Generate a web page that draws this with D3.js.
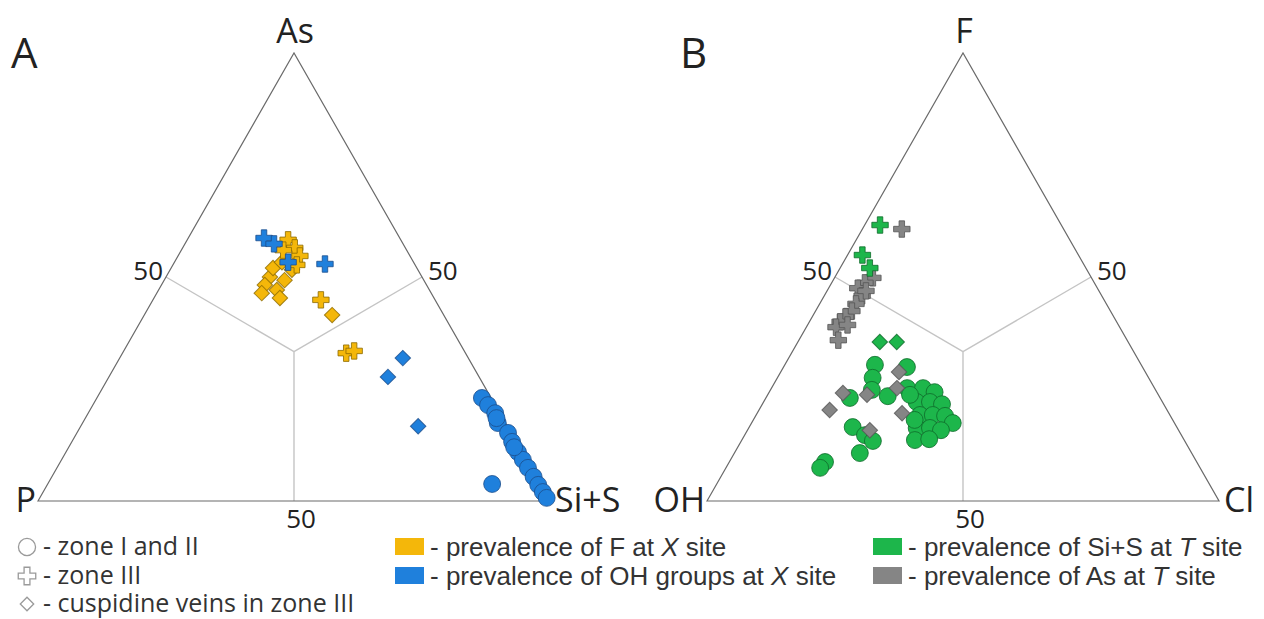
<!DOCTYPE html>
<html>
<head>
<meta charset="utf-8">
<script src="https://cdn.jsdelivr.net/npm/d3@7"></script>
<style>
  body { margin: 0; background: #fff; }
  svg text { fill: #222; }
</style>
</head>
<body>
<div id="chart"></div>
<script>
// compositions are [left vertex, apex, right vertex] in %
// diagram A: P - As - Si+S
const aCornerLabels = ['P', 'As', 'Si+S']
const aCircleBlue = [
  [1.8, 23.0, 75.2], [1.4, 21.4, 77.2], [0.9, 19.6, 79.5], [1.5, 17.4, 81.1],
  [1.2, 18.5, 80.3], [0.6, 15.2, 84.2], [0.8, 13.2, 86.0], [0.8, 10.9, 88.3],
  [0.7, 9.2, 90.1], [0.6, 7.4, 92.0], [0.5, 5.4, 94.1], [0.5, 3.6, 95.9],
  [0.4, 2.0, 97.6], [0.3, 0.7, 99.0], [9.4, 3.8, 86.8], [1.0, 12.0, 87.0]
]
const aCrossYellow = [
  [22.0, 58.3, 19.7], [21.6, 56.5, 21.9], [21.5, 54.7, 23.8], [23.1, 52.7, 24.2],
  [24.1, 56.0, 19.9], [22.3, 44.9, 32.8], [23.3, 33.0, 43.7], [21.5, 33.5, 45.0]
]
const aCrossBlue = [
  [26.5, 58.7, 14.8], [25.2, 57.4, 17.4], [24.5, 53.3, 22.2], [17.5, 52.9, 29.6]
]
const aDiamondYellow = [
  [29.7, 50.0, 20.3], [31.6, 48.2, 20.2], [29.8, 47.1, 23.1], [27.2, 49.3, 23.5],
  [30.1, 45.3, 24.6], [28.1, 52.0, 19.9], [24.6, 51.6, 23.8], [25.7, 53.3, 21.0],
  [33.1, 46.4, 20.5], [21.8, 41.5, 36.7]
]
const aDiamondBlue = [
  [12.8, 31.9, 55.3], [17.8, 27.7, 54.5], [17.4, 16.7, 65.9]
]

// diagram B: OH - F - Cl
const bCornerLabels = ['OH', 'F', 'Cl']
const bCircleGreen = [
  [52.0, 30.4, 17.6], [53.9, 27.5, 18.6], [55.4, 24.8, 19.8], [46.0, 29.9, 24.1],
  [48.3, 25.2, 26.5], [53.0, 23.4, 23.6], [60.6, 23.0, 16.4], [63.3, 16.5, 20.2],
  [61.8, 14.7, 23.5], [60.9, 13.4, 25.7], [64.8, 10.7, 24.5], [72.6, 8.7, 18.7],
  [74.2, 7.4, 18.4], [45.2, 25.2, 29.6], [43.4, 24.3, 32.3], [48.0, 22.1, 29.9],
  [45.4, 22.1, 32.5], [43.3, 21.6, 35.1], [48.8, 19.2, 32.0], [46.3, 19.2, 34.5],
  [44.0, 19.0, 37.0], [43.3, 17.4, 39.3], [50.9, 16.3, 32.8], [48.3, 16.3, 35.4],
  [46.4, 15.8, 37.8], [52.6, 13.6, 33.8], [49.7, 13.8, 36.5], [48.5, 23.7, 27.8],
  [50.4, 18.1, 31.5]
]
const bCrossGreen = [
  [35.4, 61.6, 3.0], [42.2, 54.9, 2.9], [42.2, 52.0, 5.8]
]
const bCrossGray = [
  [31.6, 60.7, 7.7], [42.7, 49.8, 7.5], [44.8, 48.7, 6.5], [46.8, 47.5, 5.7],
  [46.8, 45.8, 7.4], [48.9, 44.0, 7.1], [50.5, 42.4, 7.1], [52.4, 41.1, 6.5],
  [54.0, 40.0, 6.0], [55.4, 38.8, 5.8], [52.9, 39.3, 7.8], [56.4, 35.9, 7.7],
  [45.5, 46.9, 7.6]
]
const bDiamondGreen = [
  [48.5, 35.5, 16.0], [45.2, 35.5, 19.3]
]
const bDiamondGray = [
  [61.4, 24.1, 14.5], [65.9, 20.3, 13.8], [56.9, 23.7, 19.4], [60.3, 15.8, 23.9],
  [48.1, 28.8, 23.1], [50.3, 25.2, 24.5], [52.1, 19.6, 28.3]
]

const gridTicks = [50]

const colors = {
  yellow: ['#f4b70a', '#8c6a00'],
  blue: ['#1f80dc', '#1b4d8c'],
  green: ['#1db64b', '#0f6a2a'],
  gray: ['#858585', '#555555']
}

const w = 1264, h = 619
const svg = d3.select('#chart').append('svg')
  .attr('width', w).attr('height', h)

const triH = 448, triW = 512, base = 501

function drawTernary (left, labels, panel, series) {
  let xs = d3.scaleLinear().domain([0, 100]).range([left, left + triW])
  let ys = d3.scaleLinear().domain([0, 100]).range([base, base - triH])
  // [l, t, r] -> pixel
  let proj = d => {
    let s = d[0] + d[1] + d[2]
    let t = d[1] / s * 100, r = d[2] / s * 100
    return [xs(r + t / 2), ys(t)]
  }
  let g = svg.append('g')

  // inner lines from edge midpoints to the centre
  let c = proj([1, 1, 1])
  let mids = [[50, 50, 0], [0, 50, 50], [50, 0, 50]]
  g.selectAll('line.inner').data(mids).enter().append('line')
    .attr('x1', d => proj(d)[0]).attr('y1', d => proj(d)[1])
    .attr('x2', c[0]).attr('y2', c[1])
    .attr('stroke', '#c4c4c4').attr('stroke-width', 1.4)

  let corners = [[100, 0, 0], [0, 100, 0], [0, 0, 100]]
  g.append('path')
    .attr('d', d3.line()(corners.map(proj)) + 'Z')
    .attr('fill', 'none').attr('stroke', '#6a6a6a').attr('stroke-width', 1.2)

  // tick labels
  let fs = 26
  gridTicks.forEach(v => {
    let pl = proj([v, 100 - v, 0])
    g.append('text').text(v).attr('x', pl[0] - 3).attr('y', pl[1] + 3)
      .attr('text-anchor', 'end').attr('font-size', fs).attr('font-family', 'Open Sans')
    let pr = proj([0, v, 100 - v])
    g.append('text').text(v).attr('x', pr[0] + 6).attr('y', pr[1] + 3)
      .attr('text-anchor', 'start').attr('font-size', fs).attr('font-family', 'Open Sans')
    let pb = proj([v, 0, 100 - v])
    g.append('text').text(v).attr('x', pb[0] + 7).attr('y', pb[1] + 27)
      .attr('text-anchor', 'middle').attr('font-size', fs).attr('font-family', 'Open Sans')
  })

  // corner labels
  let lf = 34
  let p0 = proj(corners[0]), p1 = proj(corners[1]), p2 = proj(corners[2])
  g.append('text').text(labels[0]).attr('x', p0[0] - 2).attr('y', p0[1] + 11)
    .attr('text-anchor', 'end').attr('font-size', lf).attr('font-family', 'Open Sans')
  g.append('text').text(labels[1]).attr('x', p1[0] + 1).attr('y', p1[1] - 10)
    .attr('text-anchor', 'middle').attr('font-size', lf).attr('font-family', 'Open Sans')
  g.append('text').text(labels[2]).attr('x', p2[0] + 5).attr('y', p2[1] + 11)
    .attr('text-anchor', 'start').attr('font-size', lf).attr('font-family', 'Open Sans')
  g.append('text').text(panel).attr('x', left - 27).attr('y', 68)
    .attr('font-size', 42).attr('font-family', 'Open Sans')

  // points
  series.forEach(s => {
    let sym = d3.symbol().type(s.type).size(s.size)
    g.selectAll(null).data(s.data).enter().append('path')
      .attr('d', sym)
      .attr('transform', d => {
        let p = proj(d)
        return `translate(${p[0]},${p[1]})` + (s.rot ? ' rotate(45)' : '')
      })
      .attr('fill', colors[s.color][0])
      .attr('stroke', colors[s.color][1])
      .attr('stroke-width', 1)
      .attr('stroke-opacity', 0.8)
  })
}

const circ = { type: d3.symbolCircle, size: 225 }
const cross = { type: d3.symbolCross, size: 150 }
const diam = { type: d3.symbolSquare, size: 120, rot: true }

drawTernary(38, aCornerLabels, 'A', [
  Object.assign({ data: aCircleBlue, color: 'blue' }, circ),
  Object.assign({ data: aDiamondYellow, color: 'yellow' }, diam),
  Object.assign({ data: aDiamondBlue, color: 'blue' }, diam),
  Object.assign({ data: aCrossYellow, color: 'yellow' }, cross),
  Object.assign({ data: aCrossBlue, color: 'blue' }, cross)
])
drawTernary(707, bCornerLabels, 'B', [
  Object.assign({ data: bCircleGreen, color: 'green' }, circ),
  Object.assign({ data: bDiamondGreen, color: 'green' }, diam),
  Object.assign({ data: bDiamondGray, color: 'gray' }, diam),
  Object.assign({ data: bCrossGray, color: 'gray' }, cross),
  Object.assign({ data: bCrossGreen, color: 'green' }, cross)
])

// legend
const shapeLegend = [
  { type: d3.symbolCircle, size: 230, rot: false, text: '- zone I and II' },
  { type: d3.symbolCross, size: 170, rot: false, text: '- zone III' },
  { type: d3.symbolSquare, size: 90, rot: true, text: '- cuspidine veins in zone III' }
]
const colorLegend = [
  { color: 'yellow', parts: ['- prevalence of F at ', 'X', ' site'] },
  { color: 'blue', parts: ['- prevalence of OH groups at ', 'X', ' site'] },
  { color: 'green', parts: ['- prevalence of Si+S at ', 'T', ' site'] },
  { color: 'gray', parts: ['- prevalence of As at ', 'T', ' site'] }
]
const rowY = [547, 576, 604]

let lg = svg.append('g')
shapeLegend.forEach((d, i) => {
  lg.append('path').attr('d', d3.symbol().type(d.type).size(d.size))
    .attr('transform', `translate(27,${rowY[i]})` + (d.rot ? ' rotate(45)' : ''))
    .attr('fill', 'none').attr('stroke', '#9a9a9a').attr('stroke-width', 1.3)
  lg.append('text').text(d.text).attr('x', 43).attr('y', rowY[i] + 8)
    .attr('font-size', 25).attr('font-family', 'Open Sans').style('fill', '#333')
})
colorLegend.forEach((d, i) => {
  let x0 = i < 2 ? 395 : 873
  let y = rowY[i % 2]
  lg.append('rect').attr('x', x0).attr('y', y - 9).attr('width', 29).attr('height', 17)
    .attr('fill', colors[d.color][0])
  let t = lg.append('text').attr('x', x0 + 35).attr('y', y + 9)
    .attr('font-size', 26).attr('font-family', 'Liberation Sans').style('fill', '#333')
  d.parts.forEach((p, j) => {
    t.append('tspan').text(p).attr('font-style', j === 1 ? 'italic' : 'normal')
  })
})
</script>
</body>
</html>
